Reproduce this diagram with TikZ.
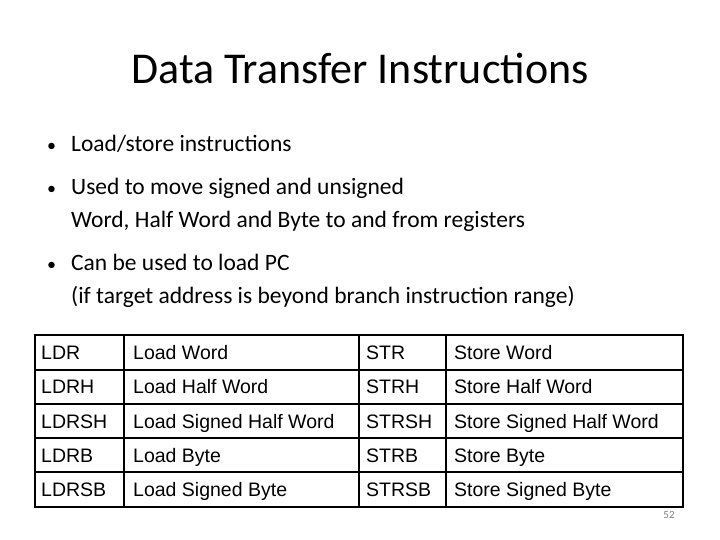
\documentclass[tikz,border=0pt]{standalone}
\usepackage{fontspec}
\setmainfont{Carlito}
\newfontfamily\arialf{Liberation Sans}
\begin{document}
\begin{tikzpicture}[x=1pt,y=-1pt,
  cell/.style={anchor=base west,font=\arialf\fontsize{19.5}{22}\selectfont,inner sep=0pt},
  bul/.style={anchor=base west,font=\fontsize{23.5}{33}\selectfont,inner sep=0pt}]
\useasboundingbox (0,0) rectangle (720,540);
\node (title) at (360,68) {\fontsize{44}{50}\selectfont Data Transfer Instructions};
\foreach \n/\yy in {1/152,2/195,3/270} \node[bul] (d\n) at (47,\yy) {\fontsize{18}{20}\selectfont •};
\node[bul] (b1) at (71,152) {Load/store instructions};
\node[bul] (b2) at (71,195) {Used to move signed and unsigned};
\node[bul] (b2b) at (71,228) {Word, Half Word and Byte to and from registers};
\node[bul] (b3) at (71,270) {Can be used to load PC};
\node[bul] (b3b) at (71,303) {(if target address is beyond branch instruction range)};
\draw[line width=1.3pt] (35,335) rectangle (683,507);
\foreach \yy in {370,404,438,472} \draw[line width=1.3pt] (35,\yy) -- (683,\yy);
\foreach \xx in {124,359,446} \draw[line width=1.3pt] (\xx,335) -- (\xx,507);
\foreach [count=\i] \a/\b/\c/\d in {LDR/Load Word/STR/Store Word,LDRH/Load Half Word/STRH/Store Half Word,LDRSH/Load Signed Half Word/STRSH/Store Signed Half Word,LDRB/Load Byte/STRB/Store Byte,LDRSB/Load Signed Byte/STRSB/Store Signed Byte}{
  \pgfmathsetmacro\yc{335+34.4*(\i-0.5)+7}
  \node[cell] (a\i) at (41,\yc) {\a};
  \node[cell] (b\i) at (133,\yc) {\b};
  \node[cell] (c\i) at (366,\yc) {\c};
  \node[cell] (d\i) at (454,\yc) {\d};
}
\node[font=\fontsize{11}{12}\selectfont,text=gray] (pg) at (669,515) {52};
\end{tikzpicture}
\end{document}
